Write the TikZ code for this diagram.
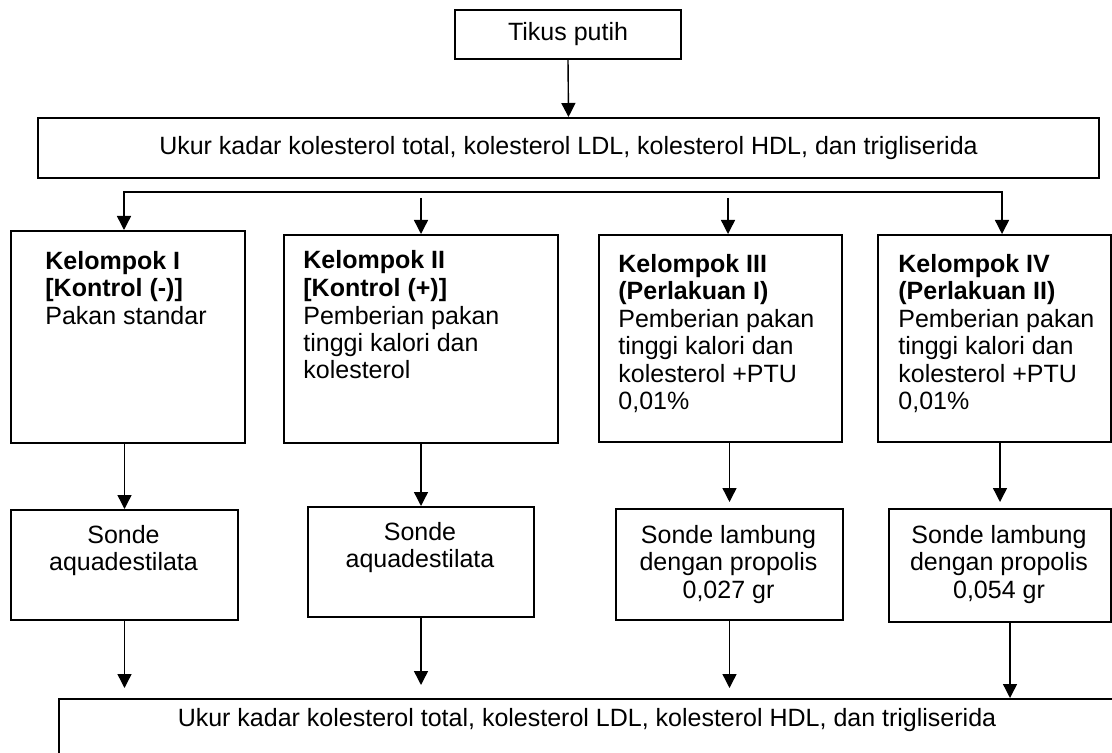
\documentclass[tikz,border=0pt]{standalone}
\usepackage{fontspec}
\setmainfont{Liberation Sans}
\usetikzlibrary{arrows.meta}
\begin{document}
\begin{tikzpicture}[x=0.5pt,y=-0.5pt,
  kotak/.style={draw,line width=1pt,inner sep=0pt,anchor=north west,font=\fontsize{12.5}{13.75}\selectfont},
  isi/.style={inner sep=0pt,font=\fontsize{12.5}{13.75}\selectfont},
  panah/.style={line width=0.7pt,-{Triangle[length=7pt,width=7pt]}}]
  \path[use as bounding box,clip] (0,0) rectangle (1112,753);
  \node[kotak,minimum width=113pt,minimum height=24.5pt] (tikus) at (454,9) {Tikus putih};
  \node[kotak,minimum width=530.5pt,minimum height=30pt] (ukur1) at (37,117)
    {Ukur kadar kolesterol total, kolesterol LDL, kolesterol HDL, dan trigliserida};
  \draw[panah] (tikus.south) -- (ukur1.north);

  \node[kotak,minimum width=117pt,minimum height=106pt] (g1) at (10,230) {};
  \node[kotak,minimum width=137pt,minimum height=104pt] (g2) at (283,234) {};
  \node[kotak,minimum width=121.5pt,minimum height=103.5pt] (g3) at (598,234) {};
  \node[kotak,minimum width=116.5pt,minimum height=103.5pt] (g4) at (877,234) {};
  \node[isi,align=left,anchor=base west] (t1) at (45,324)
    {\textbf{Kelompok I}\\\textbf{[Kontrol (-)]}\\Pakan standar};
  \node[isi,align=left,anchor=base west] (t2) at (303,379)
    {\textbf{Kelompok II}\\\textbf{[Kontrol (+)]}\\Pemberian pakan\\tinggi kalori dan\\kolesterol};
  \node[isi,align=left,anchor=base west] (t3) at (618,409.5)
    {\textbf{Kelompok III}\\\textbf{(Perlakuan I)}\\Pemberian pakan\\tinggi kalori dan\\kolesterol +PTU\\0,01\%};
  \node[isi,align=left,anchor=base west] (t4) at (898,409.5)
    {\textbf{Kelompok IV}\\\textbf{(Perlakuan II)}\\Pemberian pakan\\tinggi kalori dan\\kolesterol +PTU\\0,01\%};

  \coordinate (busL) at (124,192);
  \coordinate (busR) at (1002,192);
  \coordinate (c2) at (421,198);
  \coordinate (c3) at (728,198);
  \draw[panah,{Triangle[length=7pt,width=7pt]}-{Triangle[length=7pt,width=7pt]}]
    (g1.north -| busL) -- (busL) -- (busR) -- (g4.north -| busR);
  \draw[panah] (c2) -- (g2.north -| c2);
  \draw[panah] (c3) -- (g3.north -| c3);

  \node[kotak,minimum width=113.5pt,minimum height=55pt] (s1) at (10,509) {};
  \node[kotak,minimum width=113pt,minimum height=55pt] (s2) at (307,506) {};
  \node[kotak,minimum width=113.5pt,minimum height=55.5pt] (s3) at (615,508) {};
  \node[kotak,minimum width=111pt,minimum height=56.5pt] (s4) at (888,508) {};
  \node[isi,align=center,anchor=base] (u1) at (123.5,570.5) {Sonde\\aquadestilata};
  \node[isi,align=center,anchor=base] (u2) at (420,567.5) {Sonde\\aquadestilata};
  \node[isi,align=center,anchor=base] (u3) at (728.5,598) {Sonde lambung\\dengan propolis\\0,027 gr};
  \node[isi,align=center,anchor=base] (u4) at (999,598) {Sonde lambung\\dengan propolis\\0,054 gr};

  \draw[panah] (s1.north |- g1.south) -- (s1.north);
  \draw[panah] (s2.north |- g2.south) -- (s2.north);
  \draw[panah,shorten >=3pt] (s3.north |- g3.south) -- (s3.north);
  \draw[panah,shorten >=3pt] (s4.north |- g4.south) -- (s4.north);

  \node[kotak,minimum width=529pt,minimum height=40pt] (ukur2) at (58,698) {};
  \node[isi] (v2) at (587,720)
    {Ukur kadar kolesterol total, kolesterol LDL, kolesterol HDL, dan trigliserida};
  \draw[panah,shorten >=5pt] (s1.south) -- (s1.south |- ukur2.north);
  \draw[panah,shorten >=6.5pt] (s2.south) -- (s2.south |- ukur2.north);
  \draw[panah,shorten >=5pt] (s3.south) -- (s3.south |- ukur2.north);
  \draw[panah] ([xshift=5pt]s4.south) -- ([xshift=5pt]s4.south |- ukur2.north);
\end{tikzpicture}
\end{document}
